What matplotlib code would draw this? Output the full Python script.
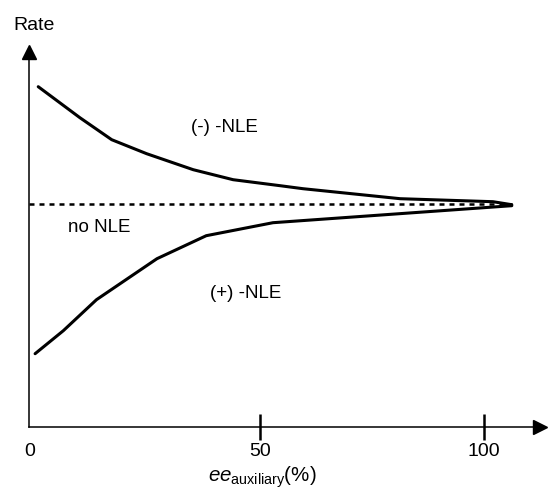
import matplotlib.pyplot as plt

plt.rcParams['font.family'] = ['Liberation Sans', 'DejaVu Sans']
plt.rcParams['mathtext.fontset'] = 'custom'
plt.rcParams['mathtext.rm'] = 'Liberation Sans'
plt.rcParams['mathtext.it'] = 'Liberation Sans:italic'

# curves (x in % ee, y in arbitrary rate units)
neg_x = [0.5, 9.8, 16.9, 24.7, 35.1, 44.0, 54.5, 59.6, 81.3, 102.0, 106.2]
neg_y = [340, 309, 287, 273, 257, 247, 241, 238, 228, 225, 222]
pos_x = [-0.2, 6.1, 13.5, 27.0, 38.0, 52.9, 106.2]
pos_y = [73, 96, 127, 168, 191, 204, 221]
base_x = [-1.45, 106.2]
base_y = [223, 223]

xticks = [50, 100]
xtick_labels = ['0', '50', '100']
xtick_label_pos = [-1.3, 50, 100]

W, H = 548, 492
fig = plt.figure(figsize=(W / 100, H / 100), dpi=100)
left, right, bottom, top = 29.5, 540, 426.7, 52
ax = fig.add_axes([left / W, (H - bottom) / H, (right - left) / W, (bottom - top) / H])
ax.set_xlim(-1.45, 112.5)
ax.set_ylim(0, bottom - top)

ax.plot(neg_x, neg_y, color='black', lw=2.2, solid_capstyle='round')
ax.plot(pos_x, pos_y, color='black', lw=2.2, solid_capstyle='round')
ax.plot(base_x, base_y, color='black', lw=1.8, dashes=(2, 2))

ax.spines['top'].set_visible(False)
ax.spines['right'].set_visible(False)
ax.spines['left'].set_linewidth(1.1)
ax.spines['bottom'].set_linewidth(1.1)
ax.plot(1, 0, '>k', ms=10, transform=ax.transAxes, clip_on=False)
ax.plot(0, 1, '^k', ms=10, transform=ax.transAxes, clip_on=False)

ax.set_yticks([])
ax.set_xticks(xticks)
ax.set_xticklabels([])
ax.tick_params(axis='x', direction='inout', length=19, width=1.8)
for xp, lab in zip(xtick_label_pos, xtick_labels):
    ax.text(xp, -25, lab, fontsize=14, ha='center', va='center', clip_on=False)

ax.text(50.5, -51, r'$\mathit{ee}_{\mathrm{auxiliary}}$(%)', fontsize=14.8,
        ha='center', va='center', clip_on=False)
fig.text(34 / W, 1 - 25 / H, 'Rate', fontsize=14, ha='center', va='center')

ax.text(42, 298.7, '(-) -NLE', fontsize=13.5, ha='center', va='center')
ax.text(14.1, 199.5, 'no NLE', fontsize=13.5, ha='center', va='center')
ax.text(46.8, 133, '(+) -NLE', fontsize=13.5, ha='center', va='center')

fig.savefig('out.png', dpi=100)
